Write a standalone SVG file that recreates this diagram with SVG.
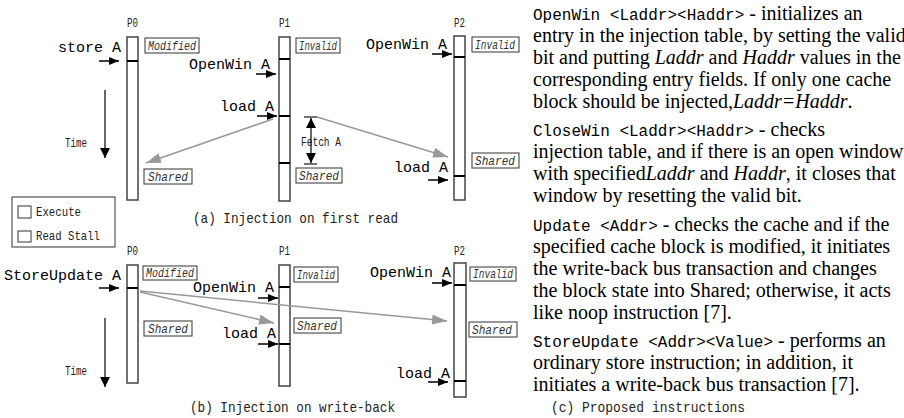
<svg xmlns="http://www.w3.org/2000/svg" width="904" height="418" viewBox="0 0 904 418">
<style>
.bar{fill:#fff;stroke:#444;stroke-width:1.5}
.div{stroke:#000;stroke-width:2}
.box{fill:#fff;stroke:#333;stroke-width:1}
.st{font-family:"Liberation Mono",monospace;font-style:italic;font-size:13px;fill:#333}
.ins{font-family:"Liberation Mono",monospace;font-size:15px;fill:#000}
.sm{font-family:"Liberation Mono",monospace;font-size:12px;fill:#222}
.cap{font-family:"Liberation Mono",monospace;font-size:15px;fill:#222}
.blk{stroke:#000;stroke-width:1.5;fill:none;marker-end:url(#ah)}
.gry{stroke:#999;stroke-width:1.5;fill:none;marker-end:url(#gh)}
.tm{stroke:#000;stroke-width:1.2;fill:none;marker-end:url(#th)}
.tx{font-family:"Liberation Serif",serif;font-size:20px;fill:#000}
.tx .m{font-family:"Liberation Mono",monospace;font-size:16px}
.tx .i{font-style:italic}
</style>
<defs>
<marker id="ah" markerUnits="userSpaceOnUse" markerWidth="10" markerHeight="8" refX="10" refY="4" orient="auto"><path d="M0,0 L10,4 L0,8 z" fill="#000"/></marker>
<marker id="th" markerUnits="userSpaceOnUse" markerWidth="10" markerHeight="10" refX="10" refY="5" orient="auto-start-reverse"><path d="M0,0 L10,5 L0,10 z" fill="#000"/></marker>
<marker id="gh" markerUnits="userSpaceOnUse" markerWidth="15" markerHeight="10" refX="15" refY="5" orient="auto"><path d="M0,0 L15,5 L0,10 z" fill="#999"/></marker>
</defs>

<!-- (a) -->
<g id="p0a">
<text class="sm" x="127" y="27" textLength="11" lengthAdjust="spacingAndGlyphs">P0</text>
<rect class="bar" x="127" y="37" width="11" height="163"/>
<line class="div" x1="127" y1="61" x2="138" y2="61"/>
<rect class="box" x="145" y="38" width="54" height="15"/><text class="st" x="148" y="50" textLength="48" lengthAdjust="spacingAndGlyphs">Modified</text>
<rect class="box" x="144" y="169" width="48" height="15"/><text class="st" x="148" y="181" textLength="40" lengthAdjust="spacingAndGlyphs">Shared</text>
<text class="ins" x="58" y="52">store A</text>
</g>
<g id="p1a">
<text class="sm" x="279" y="27" textLength="11" lengthAdjust="spacingAndGlyphs">P1</text>
<rect class="bar" x="279" y="37" width="11" height="164"/>
<line class="div" x1="279" y1="59" x2="290" y2="59"/>
<line class="div" x1="279" y1="116" x2="290" y2="116"/>
<line class="div" x1="279" y1="163" x2="290" y2="163"/>
<rect class="box" x="296" y="38" width="44" height="15"/><text class="st" x="299" y="50" textLength="38" lengthAdjust="spacingAndGlyphs">Invalid</text>
<rect class="box" x="296" y="168" width="46" height="15"/><text class="st" x="299" y="180" textLength="40" lengthAdjust="spacingAndGlyphs">Shared</text>
<text class="ins" x="189" y="69">OpenWin A</text>
<text class="ins" x="220" y="111">load A</text>
<text class="sm" x="301" y="146" textLength="40" lengthAdjust="spacingAndGlyphs">Fetch A</text>
</g>
<g id="p2a">
<text class="sm" x="454" y="27" textLength="11" lengthAdjust="spacingAndGlyphs">P2</text>
<rect class="bar" x="454" y="36" width="11" height="164"/>
<line class="div" x1="454" y1="57" x2="465" y2="57"/>
<line class="div" x1="454" y1="176" x2="465" y2="176"/>
<rect class="box" x="472" y="37" width="47" height="15"/><text class="st" x="475" y="49" textLength="40" lengthAdjust="spacingAndGlyphs">Invalid</text>
<rect class="box" x="472" y="153" width="47" height="15"/><text class="st" x="475" y="165" textLength="40" lengthAdjust="spacingAndGlyphs">Shared</text>
<text class="ins" x="366" y="49">OpenWin A</text>
<text class="ins" x="394" y="172">load A</text>
</g>
<g id="timea">
<text class="sm" x="65" y="147" textLength="22" lengthAdjust="spacingAndGlyphs">Time</text>
</g>
<g id="legend">
<rect x="12" y="197" width="103" height="50" fill="#fff" stroke="#333" stroke-width="1"/>
<rect x="18" y="206" width="13" height="12" fill="#fff" stroke="#333" stroke-width="1"/>
<rect x="18" y="231" width="13" height="11" fill="#fff" stroke="#333" stroke-width="1"/>
<text class="sm" x="36" y="216" style="font-size:13px" textLength="45" lengthAdjust="spacingAndGlyphs">Execute</text>
<text class="sm" x="36" y="240" style="font-size:13px" textLength="64" lengthAdjust="spacingAndGlyphs">Read Stall</text>
</g>
<text class="cap" x="193" y="223" textLength="205" lengthAdjust="spacingAndGlyphs">(a) Injection on first read</text>

<!-- (b) -->
<g id="p0b">
<text class="sm" x="127" y="255" textLength="11" lengthAdjust="spacingAndGlyphs">P0</text>
<rect class="bar" x="127" y="265" width="11" height="118"/>
<line class="div" x1="127" y1="288" x2="138" y2="288"/>
<rect class="box" x="143" y="266" width="54" height="14"/><text class="st" x="146" y="277" textLength="48" lengthAdjust="spacingAndGlyphs">Modified</text>
<rect class="box" x="144" y="321" width="48" height="15"/><text class="st" x="148" y="333" textLength="40" lengthAdjust="spacingAndGlyphs">Shared</text>
<text class="ins" x="4" y="280">StoreUpdate A</text>
</g>
<g id="p1b">
<text class="sm" x="279" y="255" textLength="11" lengthAdjust="spacingAndGlyphs">P1</text>
<rect class="bar" x="279" y="265" width="11" height="121"/>
<line class="div" x1="279" y1="287" x2="290" y2="287"/>
<line class="div" x1="279" y1="344" x2="290" y2="344"/>
<rect class="box" x="294" y="267" width="44" height="15"/><text class="st" x="297" y="279" textLength="38" lengthAdjust="spacingAndGlyphs">Invalid</text>
<rect class="box" x="294" y="318" width="47" height="15"/><text class="st" x="297" y="330" textLength="40" lengthAdjust="spacingAndGlyphs">Shared</text>
<text class="ins" x="193" y="292">OpenWin A</text>
<text class="ins" x="222" y="338">load A</text>
</g>
<g id="p2b">
<text class="sm" x="454" y="255" textLength="11" lengthAdjust="spacingAndGlyphs">P2</text>
<rect class="bar" x="454" y="263" width="12" height="134"/>
<line class="div" x1="454" y1="285" x2="466" y2="285"/>
<line class="div" x1="454" y1="381" x2="466" y2="381"/>
<rect class="box" x="470" y="267" width="46" height="14"/><text class="st" x="473" y="278" textLength="40" lengthAdjust="spacingAndGlyphs">Invalid</text>
<rect class="box" x="469" y="322" width="48" height="15"/><text class="st" x="472" y="334" textLength="40" lengthAdjust="spacingAndGlyphs">Shared</text>
<text class="ins" x="370" y="277">OpenWin A</text>
<text class="ins" x="396" y="378">load A</text>
</g>
<g id="timeb">
<text class="sm" x="65" y="375" textLength="22" lengthAdjust="spacingAndGlyphs">Time</text>
</g>
<text class="cap" x="190" y="412" textLength="205" lengthAdjust="spacingAndGlyphs">(b) Injection on write-back</text>

<!-- connectors -->
<g id="connectors">
<line class="blk" x1="99" y1="61" x2="119" y2="61"/>
<line class="blk" x1="256" y1="74" x2="276" y2="74"/>
<line class="blk" x1="257" y1="116" x2="277" y2="116"/>
<line class="blk" x1="432" y1="54" x2="452" y2="54"/>
<line class="blk" x1="428" y1="180" x2="448" y2="180"/>
<line class="tm" x1="105" y1="90" x2="105" y2="158"/>
<line class="gry" x1="273" y1="119" x2="146" y2="163"/>
<line class="gry" x1="317" y1="117" x2="448" y2="157"/>
<line x1="304" y1="117" x2="317" y2="117" stroke="#444" stroke-width="1.5"/>
<line x1="304" y1="164" x2="317" y2="164" stroke="#444" stroke-width="1.5"/>
<line x1="311" y1="118" x2="311" y2="163" stroke="#000" stroke-width="1.2" marker-start="url(#th)" marker-end="url(#th)"/>
<line class="blk" x1="99" y1="288" x2="119" y2="288"/>
<line class="blk" x1="258" y1="298" x2="278" y2="298"/>
<line class="blk" x1="258" y1="344" x2="278" y2="344"/>
<line class="blk" x1="432" y1="283" x2="452" y2="283"/>
<line class="blk" x1="428" y1="382" x2="448" y2="382"/>
<line class="tm" x1="105" y1="318" x2="105" y2="387"/>
<line class="gry" x1="140" y1="292" x2="274" y2="323"/>
<line class="gry" x1="140" y1="291" x2="447" y2="321"/>
</g>

<!-- (c) -->
<g id="instructions" class="tx">
<text x="533" y="20"><tspan class="m">OpenWin &lt;Laddr&gt;&lt;Haddr&gt;</tspan> - initializes an</text>
<text x="533" y="42">entry in the injection table, by setting the valid</text>
<text x="533" y="64">bit and putting <tspan class="i">Laddr</tspan> and <tspan class="i">Haddr</tspan> values in the</text>
<text x="533" y="86">corresponding entry fields. If only one cache</text>
<text x="533" y="108">block should be injected,<tspan class="i">Laddr=Haddr</tspan>.</text>
<text x="533" y="136"><tspan class="m">CloseWin &lt;Laddr&gt;&lt;Haddr&gt;</tspan> - checks</text>
<text x="533" y="158">injection table, and if there is an open window</text>
<text x="533" y="180">with specified<tspan class="i">Laddr</tspan> and <tspan class="i">Haddr</tspan>, it closes that</text>
<text x="533" y="202">window by resetting the valid bit.</text>
<text x="533" y="231"><tspan class="m">Update &lt;Addr&gt;</tspan> - checks the cache and if the</text>
<text x="533" y="253">specified cache block is modified, it initiates</text>
<text x="533" y="275">the write-back bus transaction and changes</text>
<text x="533" y="297">the block state into Shared; otherwise, it acts</text>
<text x="533" y="319">like noop instruction [7].</text>
<text x="533" y="347"><tspan class="m">StoreUpdate &lt;Addr&gt;&lt;Value&gt;</tspan> - performs an</text>
<text x="533" y="369">ordinary store instruction; in addition, it</text>
<text x="533" y="391">initiates a write-back bus transaction [7].</text>
</g>
<text class="cap" x="551" y="412" textLength="194" lengthAdjust="spacingAndGlyphs">(c) Proposed instructions</text>
</svg>
